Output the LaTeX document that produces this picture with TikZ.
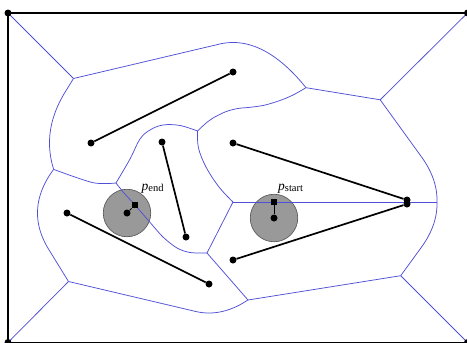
\documentclass[tikz,border=0pt]{standalone}
\usepackage{fontspec}
\setmainfont{Liberation Serif}
\definecolor{vorblue}{RGB}{80,80,215}
\definecolor{diskgray}{RGB}{153,153,153}
\definecolor{diskedge}{RGB}{80,80,80}
\begin{document}
\begin{tikzpicture}[x=1pt,y=-1pt,
  vor/.style={draw=vorblue, line width=0.75pt, line join=round},
  seg/.style={draw=black, line width=1.7pt},
  dot/.style={circle, fill=black, inner sep=0pt, minimum size=7pt},
  sqr/.style={rectangle, fill=black, inner sep=0pt, minimum size=6.5pt},
  disk/.style={circle, fill=diskgray, draw=diskedge, line width=0.6pt, inner sep=0pt, minimum size=47.5pt},
  framebox/.style={draw=black, line width=1.8pt},
  tie/.style={draw=black, line width=0.8pt},
  lbl/.style={anchor=base west, inner sep=0pt, font=\fontsize{13.5}{15}\selectfont}]
\useasboundingbox (0,0) rectangle (467,343);
\fill[white] (0,0) rectangle (467,343);

% frame corners
\coordinate (tl) at (8,13);
\coordinate (tr) at (467.5,13);
\coordinate (br) at (467.5,342.5);
\coordinate (bl) at (8,342.5);

% disks
\node[disk] (dend) at (127,213) {};
\node[disk] (dstart) at (274,218) {};

% Voronoi vertices
\coordinate (v1) at (73.5,78.5);
\coordinate (v2) at (306,87.7);
\coordinate (v3) at (116,183);
\coordinate (v4) at (68.5,281.5);
\coordinate (v5) at (53.7,169.4);
\coordinate (v6) at (197.5,131);
\coordinate (v7) at (207,253);
\coordinate (v8) at (233,202);
\coordinate (v9) at (248,300);
\coordinate (v10) at (400.7,275.7);
\coordinate (v11) at (380.2,99.8);

% Voronoi edges
\draw[vor] (tl) -- (v1);
\draw[vor] (v1) -- (219,44.2) -- plot[domain=219:306, samples=40] (\x,{(\x-233)^2/118+42.5});
\draw[vor] (v1) -- (65.2,92) -- plot[domain=92:169.4, variable=\t, samples=40] ({(\t-143)^2/166+49.5},\t);
\draw[vor] plot[domain=169.4:249, variable=\t, samples=40] ({(\t-213)^2/118+37.5},\t) -- (v4);
\draw[vor] (v4) -- (bl);
\draw[vor] (v4) -- (195,311.3) -- plot[domain=195:248, samples=30] (\x,{313-(\x-209)^2/116});
\draw[vor] (v9) -- (v10);
\draw[vor] (v10) -- (br);
\draw[vor] (v10) -- (421.6,247) -- plot[domain=247:204, variable=\t, samples=30] ({437-(\t-204)^2/120},\t)
  -- plot[domain=200:158, variable=\t, samples=30] ({437-(\t-200)^2/120},\t) -- (v11);
\draw[vor] (v11) -- (tr);
\draw[vor] (v11) -- (v2);
\draw[vor] plot[smooth, tension=0.5] coordinates {(v2) (295,94) (285,98.6) (274,102.5) (263,105.5) (250,107.3) (240,108.2) (233,109.5) (225,112) (213,118) (205,124) (v6)};
\draw[vor] plot[smooth, tension=0.6] coordinates {(v6) (198.5,148) (206,167) (219,187) (v8)};
\draw[vor] (v8) -- (437,202);
\draw[vor] plot[smooth, tension=0.6] coordinates {(v6) (180,125.5) (163,125) (150,130) (140,139) (130,159) (v3)};
\draw[vor] plot[smooth, tension=0.5] coordinates {(v5) (93,182.7) (v3)};
\draw[vor] plot[smooth, tension=0.5] coordinates {(v3) (124,193) (135,205) (148,220) (163,237) (177,248) (190,252.5) (v7)};
\draw[vor] (v7) -- (v8);
\draw[vor] (v7) -- (v9);

% frame
\draw[framebox] (tl) -- (tr) -- (br) -- (bl) -- cycle;
\node[dot] (ctl) at (tl) {};
\node[dot] (ctr) at (tr) {};
\node[dot] (cbl) at (bl) {};
\node[dot] (cbr) at (br) {};

% segments
\node[dot] (a1) at (91,143) {};
\node[dot] (a2) at (233,72) {};
\node[dot] (b1) at (162,142) {};
\node[dot] (b2) at (186,237) {};
\node[dot] (c1) at (233,143) {};
\node[dot] (c2) at (407,200) {};
\node[dot] (d1) at (233,260) {};
\node[dot] (d2) at (407,204) {};
\node[dot] (e1) at (67,213) {};
\node[dot] (e2) at (209,284) {};
\draw[seg] (a1) -- (a2);
\draw[seg] (b1) -- (b2);
\draw[seg] (c1) -- (c2);
\draw[seg] (d1) -- (d2);
\draw[seg] (e1) -- (e2);

% disk centres and reference squares
\node[dot] (ce) at (127,213) {};
\node[sqr] (qe) at (135,205) {};
\draw[tie] (ce) -- (qe);
\node[dot] (cs) at (274,218) {};
\node[sqr] (qs) at (274,202) {};
\draw[tie] (cs) -- (qs);

% labels
\node[lbl] (lend) at (141.5,190) {\textit{p}\raisebox{-1.5pt}{\fontsize{10.5}{12}\selectfont end}};
\node[lbl] (lstart) at (278,190) {\textit{p}\raisebox{-1.5pt}{\fontsize{10.5}{12}\selectfont start}};
\end{tikzpicture}
\end{document}
